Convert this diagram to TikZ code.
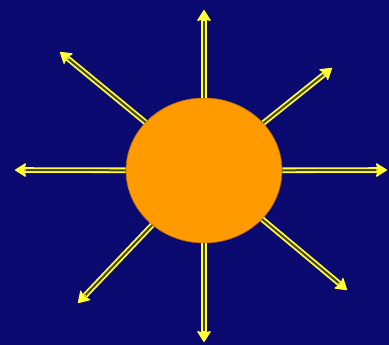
\documentclass[tikz,border=0pt]{standalone}
\usepackage{tikz}
\usetikzlibrary{arrows.meta, shapes.geometric, calc}
\definecolor{skyblue}{HTML}{0A0A70}
\definecolor{sunorange}{HTML}{FF9A00}
\definecolor{rayyellow}{HTML}{FFFF33}
\definecolor{raycore}{HTML}{4A4428}

\begin{document}
\begin{tikzpicture}[
    x=1pt, y=-1pt,
    sun/.style={ellipse, draw=sunorange!70!black, line width=0.6pt, fill=sunorange, minimum width=156pt, minimum height=145pt, inner sep=0pt},
    ray/.style={draw=rayyellow, line width=1.8pt, double=raycore, double distance=2pt, shorten >=8pt},
    head/.style={-{Stealth[length=12pt, width=15pt, inset=2.5pt, round]}, draw=rayyellow, fill=rayyellow, line width=1.2pt},
]

% Background
\fill[skyblue] (0,0) rectangle (389,345);
\useasboundingbox (0,0) rectangle (389,345);

% Sun
\node[sun] (sun) at (204,170.5) {};

% Ray ends
\coordinate (tN)  at (204,10);
\coordinate (tS)  at (204,342);
\coordinate (tW)  at (15,170);
\coordinate (tE)  at (387,170);
\coordinate (tNW) at (60,52);
\coordinate (tNE) at (332,68);
\coordinate (tSW) at (78,303);
\coordinate (tSE) at (347,290);

% Rays
\foreach \t in {tN,tS,tW,tE,tNW,tNE,tSW,tSE} {
    \draw[ray] (sun) -- (\t);
    \draw[head] ($(\t)!11pt!(sun)$) -- (\t);
}

\end{tikzpicture}
\end{document}
